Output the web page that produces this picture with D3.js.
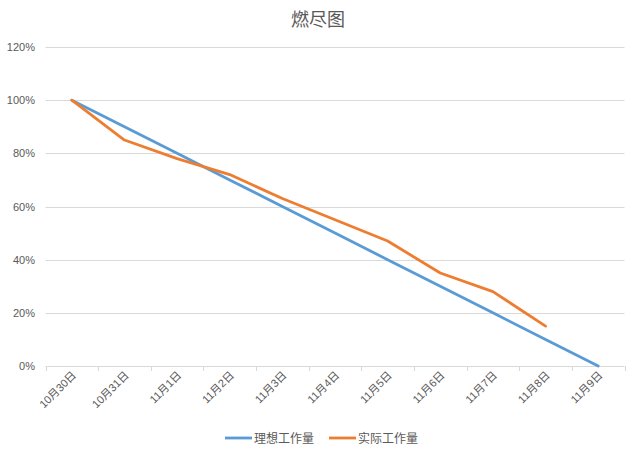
<!DOCTYPE html>
<html><head><meta charset="utf-8">
<script src="https://cdn.jsdelivr.net/npm/d3@7"></script>
<style>body{margin:0;background:#fff}text{font-family:"Liberation Sans","Noto Sans CJK SC",sans-serif}</style>
</head><body><svg id="c" width="635" height="459"></svg>
<script>
const categories = ["10月30日","10月31日","11月1日","11月2日","11月3日","11月4日","11月5日","11月6日","11月7日","11月8日","11月9日"];
const idealValues = [100,90,80,70,60,50,40,30,20,10,0];
const actualValues = [100,85,78,72,63,55,47,35,28,15];
const yTicks = [0,20,40,60,80,100,120];
const seriesNames = ["理想工作量","实际工作量"];
const colors = ["#5B9BD5","#ED7D31"];

const svg = d3.select("#c");
const m = {left:45.5, right:624.5, top:47, bottom:366};
const x = d3.scaleBand().domain(categories).range([m.left,m.right]);
const y = d3.scaleLinear().domain([0,120]).range([m.bottom,m.top]);

svg.append("text").attr("x",318).attr("y",26).attr("text-anchor","middle")
  .attr("font-size",18).attr("fill","#595959").style("font-family","'Noto Sans CJK SC'").text("燃尽图");

// grid
svg.append("g").selectAll("line").data(yTicks).join("line")
  .attr("x1",m.left).attr("x2",m.right).attr("y1",d=>Math.round(y(d))+0.5).attr("y2",d=>Math.round(y(d))+0.5)
  .attr("stroke","#d9d9d9").attr("stroke-width",1);
svg.append("g").selectAll("text").data(yTicks).join("text")
  .attr("x",35).attr("y",d=>y(d)+4).attr("text-anchor","end").attr("font-size",11).attr("fill","#595959")
  .text(d=>d+"%");

// x ticks
const tickPos = categories.map(c=>x(c)).concat([m.right]);
svg.append("g").selectAll("line").data(tickPos).join("line")
  .attr("x1",d=>Math.round(d)+0.5).attr("x2",d=>Math.round(d)+0.5).attr("y1",m.bottom).attr("y2",m.bottom+5)
  .attr("stroke","#d9d9d9");
svg.append("g").selectAll("text").data(categories).join("text")
  .attr("transform",d=>`translate(${x(d)+x.bandwidth()/2+5},${m.bottom+10}) rotate(-45)`)
  .attr("text-anchor","end").attr("font-size",11).attr("fill","#595959")
  .style("font-family","'Liberation Sans','Noto Sans CJK SC'")
  .text(d=>d);

const cx = i=>x(categories[i])+x.bandwidth()/2;
const line = d3.line().x((d,i)=>cx(i)).y(d=>y(d));
[idealValues,actualValues].forEach((vals,k)=>{
  svg.append("path").attr("d",line(vals)).attr("fill","none").attr("stroke",colors[k])
    .attr("stroke-width",2.8).attr("stroke-linejoin","round").attr("stroke-linecap","round");
});

// legend
const lg = svg.append("g");
const legendX = [225,329];
seriesNames.forEach((n,k)=>{
  lg.append("line").attr("x1",legendX[k]).attr("x2",legendX[k]+27).attr("y1",438).attr("y2",438)
    .attr("stroke",colors[k]).attr("stroke-width",2.8);
  lg.append("text").attr("x",legendX[k]+29).attr("y",442.5).attr("font-size",12).attr("fill","#595959")
    .style("font-family","'Noto Sans CJK SC'").text(n);
});
</script></body></html>
